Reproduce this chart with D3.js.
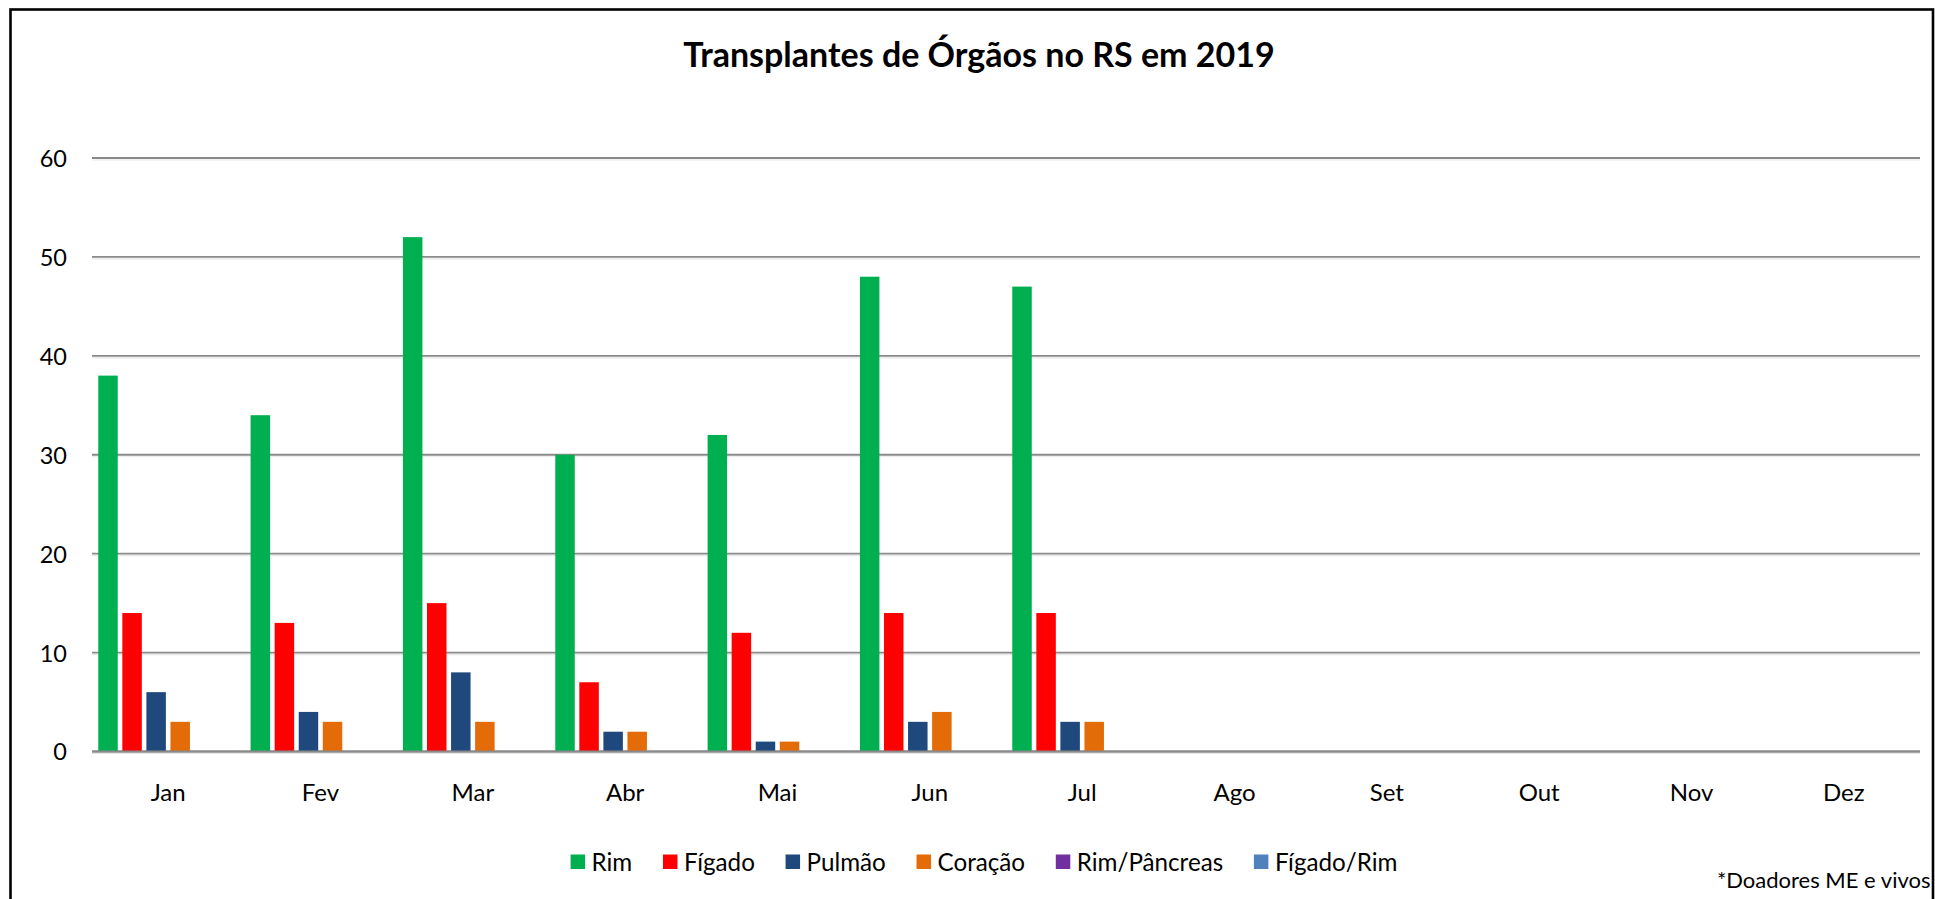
<!DOCTYPE html>
<html>
<head>
<meta charset="utf-8">
<script src="https://cdn.jsdelivr.net/npm/d3@7"></script>
<style>
  html, body { margin: 0; padding: 0; background: #fff; }
  svg { display: block; }
  text { font-family: Lato, "Open Sans", sans-serif; fill: #000; }
</style>
</head>
<body>
<svg id="chart" width="1935" height="899"></svg>
<script>
const months = ["Jan","Fev","Mar","Abr","Mai","Jun","Jul","Ago","Set","Out","Nov","Dez"];
const seriesNames = ["Rim","Fígado","Pulmão","Coração","Rim/Pâncreas","Fígado/Rim"];
const seriesColors = ["#00B050","#FF0000","#1F497D","#E36C09","#7030A0","#4F81BD"];
const rim          = [38, 34, 52, 30, 32, 48, 47, null, null, null, null, null];
const figado       = [14, 13, 15,  7, 12, 14, 14, null, null, null, null, null];
const pulmao       = [ 6,  4,  8,  2,  1,  3,  3, null, null, null, null, null];
const coracao      = [ 3,  3,  3,  2,  1,  4,  3, null, null, null, null, null];
const rimPancreas  = [ 0,  0,  0,  0,  0,  0,  0, null, null, null, null, null];
const figadoRim    = [ 0,  0,  0,  0,  0,  0,  0, null, null, null, null, null];
const yTicks = [0, 10, 20, 30, 40, 50, 60];
const titleText = "Transplantes de Órgãos no RS em 2019";
const noteText = "*Doadores ME e vivos";

const seriesValues = [rim, figado, pulmao, coracao, rimPancreas, figadoRim];

const svg = d3.select("#chart");
const W = 1935, H = 899;
const plot = { left: 92, right: 1920, top: 158, bottom: 751.5 };

// outer border
svg.append("rect")
  .attr("x", 10.5).attr("y", 9.5)
  .attr("width", 1933 - 10.5).attr("height", H + 10)
  .attr("fill", "none").attr("stroke", "#000").attr("stroke-width", 2.6);

// title
svg.append("text")
  .attr("x", 979).attr("y", 67)
  .attr("text-anchor", "middle")
  .attr("font-weight", "bold")
  .attr("font-size", 34)
  .text(titleText);

const x0 = d3.scaleBand().domain(months).range([plot.left, plot.right]).paddingInner(0).paddingOuter(0);
const x1 = d3.scaleBand().domain(seriesNames).range([0, x0.bandwidth()]).paddingInner(0.19).paddingOuter(0.26);
const y = d3.scaleLinear().domain([0, 60]).range([plot.bottom, plot.top]);

// gridlines
const grid = svg.append("g");
yTicks.forEach(t => {
  grid.append("line")
    .attr("x1", plot.left).attr("x2", plot.right)
    .attr("y1", y(t) + 2).attr("y2", y(t) + 2)
    .attr("stroke", "#e8e8e8").attr("stroke-width", 1.2);
  grid.append("line")
    .attr("x1", plot.left).attr("x2", plot.right)
    .attr("y1", y(t)).attr("y2", y(t))
    .attr("stroke", "#8a8a8a").attr("stroke-width", 1.8);
});

// y axis labels
const yAxis = d3.axisLeft(y).tickValues(yTicks).tickSize(0).tickPadding(0);
const yg = svg.append("g").attr("transform", `translate(${67},0)`).call(yAxis);
yg.select(".domain").remove();
yg.selectAll("text").attr("font-size", 23.5).attr("font-family", "Lato, sans-serif").attr("fill", "#000").attr("dy", "0.36em");

// x axis labels
const xAxis = d3.axisBottom(x0).tickSize(0).tickPadding(0);
const xg = svg.append("g").attr("transform", `translate(0,${plot.bottom})`).call(xAxis);
xg.select(".domain").remove();
xg.selectAll("text").attr("font-size", 24).attr("font-family", "Lato, sans-serif").attr("fill", "#000").attr("dy", null).attr("y", 49.5);

// bars
const groups = svg.append("g").selectAll("g")
  .data(months)
  .join("g")
  .attr("transform", d => `translate(${x0(d)},0)`);

groups.selectAll("rect")
  .data((m, i) => seriesNames.map((s, k) => ({ s, k, v: seriesValues[k][i] })))
  .join("rect")
  .filter(d => d.v != null && d.v > 0)
  .attr("x", d => x1(d.s))
  .attr("width", x1.bandwidth())
  .attr("y", d => y(d.v))
  .attr("height", d => y(0) - y(d.v))
  .attr("fill", d => seriesColors[d.k]);

// zero line over bars bottom
svg.append("line")
  .attr("x1", plot.left).attr("x2", plot.right)
  .attr("y1", y(0)).attr("y2", y(0))
  .attr("stroke", "#8a8a8a").attr("stroke-width", 1.8);

// legend
const legend = svg.append("g");
const sq = 14.5, gapText = 6.5, gapItem = 30.7, fs = 24.2;
const items = legend.selectAll("g").data(seriesNames).join("g");
items.append("rect")
  .attr("width", sq).attr("height", sq)
  .attr("y", 854.5)
  .attr("fill", (d, i) => seriesColors[i]);
items.append("text")
  .attr("font-size", fs)
  .attr("y", 862)
  .attr("dy", "0.36em")
  .text(d => d);
let widths = [];
items.selectAll("text").each(function() { widths.push(this.getComputedTextLength()); });
const total = widths.reduce((a, w) => a + sq + gapText + w, 0) + gapItem * (widths.length - 1);
let cx = 984 - total / 2;
items.each(function(d, i) {
  d3.select(this).select("rect").attr("x", cx);
  d3.select(this).select("text").attr("x", cx + sq + gapText);
  cx += sq + gapText + widths[i] + gapItem;
});

// note
svg.append("text")
  .attr("x", 1930.5).attr("y", 888)
  .attr("text-anchor", "end")
  .attr("font-size", 22)
  .text(noteText);
</script>
</body>
</html>
